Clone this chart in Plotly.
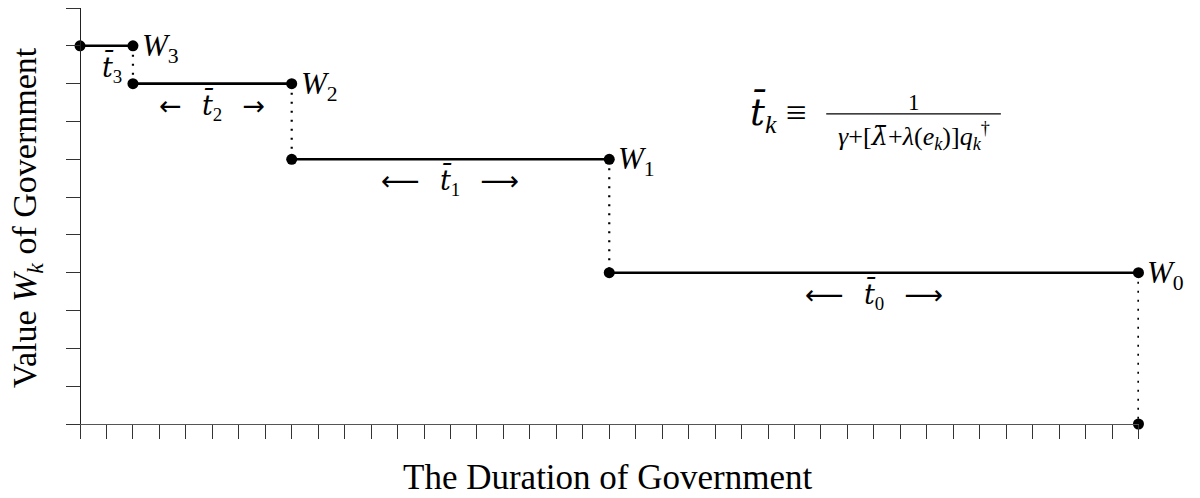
import plotly.graph_objects as go

# Step data: value level of each government and the duration it lasts
labels = ["3", "2", "1", "0"]
levels = [10, 9, 7, 4]
starts = [0, 2, 8, 20]
ends = [2, 8, 20, 40]
arrows = [("", ""), ("\u2190", "\u2192"), ("\u27f5", "\u27f6"), ("\u27f5", "\u27f6")]

SERIF = "Liberation Serif"
MATH = "DejaVu Serif"
ARROW = "DejaVu Sans"
x_min, x_max = -0.53, 40.02

fig = go.Figure()

# horizontal segments with endpoint dots
for s, e, lv in zip(starts, ends, levels):
    fig.add_trace(go.Scatter(
        x = [s, e], y = [lv, lv], mode = "lines+markers",
        line = dict(color = "black", width = 2.6),
        marker = dict(color = "black", size = 11),
        cliponaxis = False, showlegend = False, hoverinfo = "skip"))

# dotted drops to the next level (last one drops to zero)
next_levels = levels[1:] + [0]
for e, lv, nl in zip(ends, levels, next_levels):
    fig.add_trace(go.Scatter(
        x = [e, e], y = [lv, nl], mode = "lines",
        line = dict(color = "black", width = 2.2, dash = "2px,7px"),
        cliponaxis = False, showlegend = False, hoverinfo = "skip"))
fig.add_trace(go.Scatter(
    x = [ends[-1]], y = [0], mode = "markers",
    marker = dict(color = "black", size = 11),
    cliponaxis = False, showlegend = False, hoverinfo = "skip"))

# W labels and duration labels
for lab, s, e, lv, (la, ra) in zip(labels, starts, ends, levels, arrows):
    fig.add_annotation(
        x = e, y = lv, xanchor = "left", yanchor = "middle", xshift = 7, yshift = -2,
        text = "<i>W</i><sub>%s</sub>" % lab, showarrow = False,
        font = dict(family = SERIF, size = 31, color = "black"))
    mid = (s + e) / 2
    tbar = "<span style='font-family:%s'><i>t\u0304</i></span><sub>%s</sub>" % (MATH, lab)
    if la:
        txt = ("<span style='font-family:%s'>%s</span>&nbsp;&nbsp;&nbsp;%s&nbsp;&nbsp;&nbsp;"
               "<span style='font-family:%s'>%s</span>" % (ARROW, la, tbar, ARROW, ra))
    else:
        txt = tbar
        mid = 1.2
    fig.add_annotation(
        x = mid, y = lv, yanchor = "middle", yshift = -22,
        text = txt, showarrow = False,
        font = dict(family = SERIF, size = 27, color = "black"))

# formula for the expected duration
fig.add_annotation(
    x = 26.4, y = 8.2, xanchor = "center", yanchor = "middle", yshift = 0,
    text = "<span style='font-family:%s'><i>t\u0304</i></span><sub><i>k</i></sub>&nbsp;\u2261" % MATH,
    showarrow = False,
    font = dict(family = SERIF, size = 37, color = "black"))
fig.add_annotation(
    x = 31.5, y = 8.2, yanchor = "bottom", yshift = -3,
    text = "1", showarrow = False,
    font = dict(family = SERIF, size = 23, color = "black"))
fig.add_annotation(
    x = 31.5, y = 8.2, yanchor = "top", yshift = -2,
    text = "<i>\u03b3</i>+[<span style='font-family:%s'><i>\u03bb\u0304</i></span>+<i>\u03bb</i>(<i>e</i><sub><i>k</i></sub>)]<i>q</i><sub><i>k</i></sub><sup>\u2020</sup>" % MATH,
    showarrow = False,
    font = dict(family = SERIF, size = 26, color = "black"))
fig.add_shape(type = "line", x0 = 28.2, x1 = 34.8, y0 = 8.2, y1 = 8.2,
              line = dict(color = "black", width = 1.3))

# axis titles
fig.add_annotation(
    xref = "paper", yref = "paper", x = 0.505, y = -0.128, yanchor = "middle",
    text = "The Duration of Government", showarrow = False,
    font = dict(family = SERIF, size = 35, color = "black"))
fig.add_annotation(
    xref = "paper", x = 0, xanchor = "center", xshift = -39, y = 5.45, textangle = -90,
    text = "Value <i>W</i><sub><i>k</i></sub> of Government", showarrow = False,
    font = dict(family = SERIF, size = 34, color = "black"))

# page body has an 8px margin, so the figure is 8px smaller and shifted
fig.update_layout(
    width = 1192, height = 490,
    margin = dict(l = 58, r = 61, t = 0, b = 74),
    plot_bgcolor = "white", paper_bgcolor = "white",
    xaxis = dict(
        range = [x_min, x_max], tick0 = 0, dtick = 1, ticks = "outside", ticklen = 14,
        tickwidth = 1.3, tickcolor = "#333", showticklabels = False, showgrid = False,
        zeroline = False, showline = True, linecolor = "#555", linewidth = 1.3),
    yaxis = dict(
        range = [0, 11], tick0 = 0, dtick = 1, ticks = "outside", ticklen = 14,
        tickwidth = 1.3, tickcolor = "#333", showticklabels = False, showgrid = False,
        zeroline = False, showline = True, linecolor = "#222", linewidth = 1.3,
        anchor = "free", position = (0 - x_min) / (x_max - x_min)),
)

fig.write_html("out.html")
